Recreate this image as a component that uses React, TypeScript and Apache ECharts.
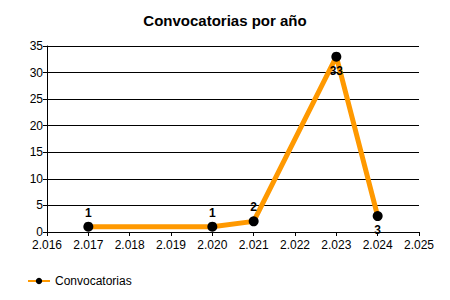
import React, { useEffect, useRef } from "react";
import * as echarts from "echarts";

const years = [2017, 2020, 2021, 2023, 2024];
const counts = [1, 1, 2, 33, 3];
const labelSides = ["top", "top", "top", "bottom", "bottom"];
const xMin = 2016;
const xMax = 2025;
const yMax = 35;

const fmtYear = (v: number) => {
  const s = String(Math.round(v));
  return s.slice(0, s.length - 3) + "." + s.slice(-3);
};

export default function App() {
  const ref = useRef<HTMLDivElement>(null);
  useEffect(() => {
    if (!ref.current) return;
    const chart = echarts.init(ref.current, null, { renderer: "svg" });
    const font = "'Liberation Sans', Arial, sans-serif";
    chart.setOption({
      animation: false,
      textStyle: { fontFamily: font },
      title: {
        text: "Convocatorias por año",
        left: "center",
        top: 8,
        textStyle: { fontFamily: font, fontSize: 15, fontWeight: "bold", color: "#000" },
      },
      grid: { left: 47, right: 31, top: 46, bottom: 68, containLabel: false },
      xAxis: {
        type: "value",
        min: xMin,
        max: xMax,
        interval: 1,
        axisLine: { lineStyle: { color: "#000", width: 1 } },
        axisTick: { show: true, length: 4, inside: false, lineStyle: { color: "#000" } },
        splitLine: { show: false },
        axisLabel: {
          color: "#000",
          fontSize: 12,
          fontFamily: font,
          margin: 7,
          formatter: (v: number) => fmtYear(v),
        },
      },
      yAxis: {
        type: "value",
        min: 0,
        max: yMax,
        interval: 5,
        axisLine: { show: true, lineStyle: { color: "#000", width: 1 } },
        axisTick: { show: true, length: 4, lineStyle: { color: "#000" } },
        splitLine: { show: true, lineStyle: { color: "#000", width: 1 } },
        axisLabel: { color: "#000", fontSize: 12, fontFamily: font, margin: 4 },
      },
      legend: {
        left: 22,
        top: 270,
        itemWidth: 22,
        itemHeight: 8,
        itemGap: 5,
        textStyle: { color: "#000", fontSize: 12, fontFamily: font },
        data: ["Convocatorias"],
      },
      series: [
        {
          name: "Convocatorias",
          type: "line",
          data: years.map((y, i) => ({
            value: [y, counts[i]],
            label: { position: labelSides[i] },
          })),
          lineStyle: { color: "#FF9900", width: 5 },
          itemStyle: { color: "#000", borderWidth: 0 },
          color: "#FF9900",
          symbol: "circle",
          symbolSize: 10,
          label: {
            show: true,
            color: "#000",
            fontWeight: "bold",
            fontSize: 12,
            fontFamily: font,
            distance: 3,
          },
        },
      ],
    });
    return () => chart.dispose();
  }, []);
  return <div ref={ref} style={{ width: 450, height: 300, position: "absolute", left: 0, top: 0 }} />;
}
